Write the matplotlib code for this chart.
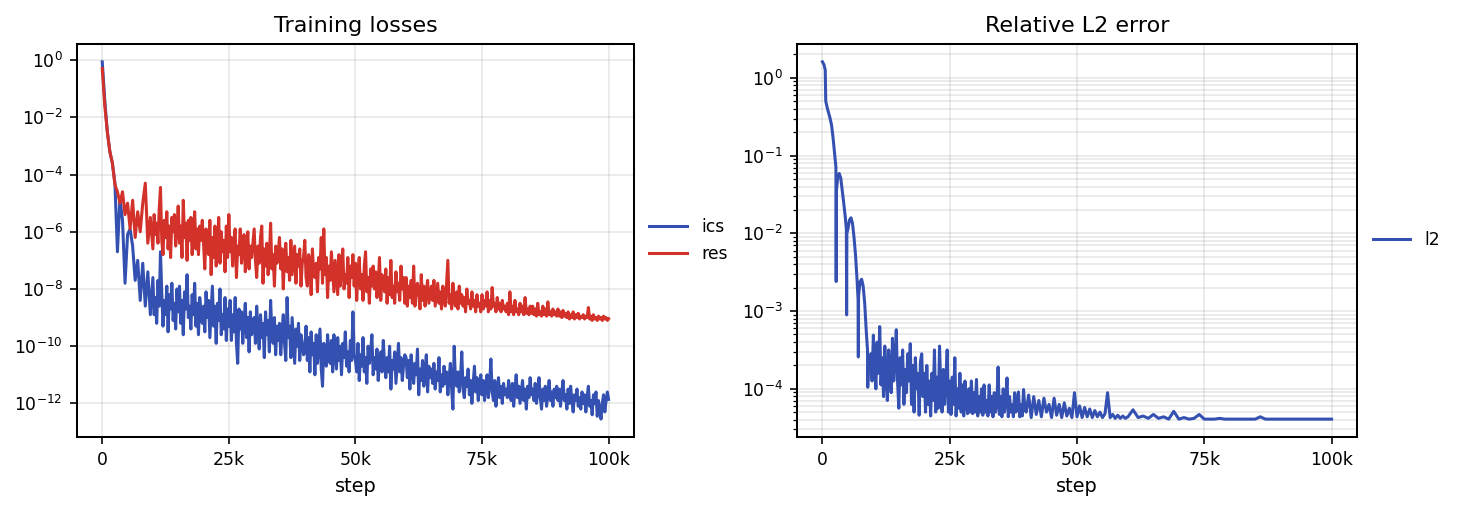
"""Training losses and relative L2 error, log-scale curves."""
import numpy as np
import matplotlib

matplotlib.use("Agg")
import matplotlib.pyplot as plt
from matplotlib.ticker import FuncFormatter, LogLocator, NullLocator

# loss curves: every 500 steps up to 9.5k, then every 250 (values as log10)
loss_steps = np.concatenate([np.arange(0, 10000, 500), np.arange(10000, 100001, 250)])

ics_log10 = [
    -0.06, -1.4, -2.5, -3.2, -3.6, -4.3, -6.7, -4.8, -5.6, -7.8,
    -6.1, -5.9, -6.5, -7.7, -7.0, -8.4, -7.1, -8.6, -7.4, -8.9,
    # 10k
    -7.6, -8.9, -8.3, -9.2, -7.7, -8.6, -6.7, -8.1, -9.3, -8.4,
    -8.9, -7.9, -9.5, -8.2, -8.7, -7.8, -9.1, -8.5, -9.4, -8.0,
    -8.8, -7.9, -9.2, -8.4, -9.6, -8.1, -8.7, -7.5, -9.0, -8.6,
    -9.4, -8.2, -8.9, -7.8, -9.3, -8.5, -9.6, -8.3, -8.8, -9.2,
    # 20k
    -8.6, -9.5, -8.1, -9.0, -8.4, -9.7, -8.8, -7.9, -9.3, -8.6,
    -9.9, -8.5, -9.1, -8.0, -9.6, -8.9, -9.4, -8.3, -9.8, -8.7,
    -9.3, -8.4, -9.8, -8.9, -9.5, -8.3, -9.9, -10.6, -8.7, -9.4,
    -8.8, -9.9, -9.1, -8.5, -9.7, -9.0, -10.2, -8.8, -9.6, -9.2,
    # 30k
    -9.0, -9.9, -8.6, -9.5, -10.1, -8.9, -9.7, -9.2, -10.4, -8.8,
    -9.6, -9.1, -10.2, -8.4, -9.5, -9.9, -9.0, -10.3, -9.3, -9.8,
    -9.2, -10.3, -9.5, -8.9, -9.9, -10.5, -8.3, -9.7, -9.3, -10.4,
    -9.0, -9.8, -10.6, -9.4, -10.0, -9.2, -10.5, -9.6, -9.9, -10.3,
    # 40k
    -10.2, -9.3, -10.5, -9.7, -10.9, -9.5, -10.3, -9.9, -11.0, -9.6,
    -10.6, -10.0, -9.4, -10.8, -11.4, -9.9, -10.4, -10.7, -9.6, -10.3,
    -10.6, -9.8, -10.9, -9.6, -10.3, -10.8, -9.7, -10.5, -10.0, -11.0,
    -9.9, -10.4, -9.5, -10.7, -10.2, -10.9, -9.8, -10.5, -8.8, -10.3,
    # 50k
    -10.5, -10.9, -9.9, -11.2, -10.3, -10.7, -9.7, -10.9, -10.4, -11.3,
    -10.0, -10.6, -10.2, -9.6, -11.0, -10.4, -10.8, -10.1, -11.2, -10.5,
    -10.2, -10.9, -9.8, -10.6, -11.1, -10.4, -10.9, -10.0, -11.5, -10.5,
    -10.8, -10.2, -11.3, -10.6, -9.9, -10.9, -10.4, -11.2, -10.7, -10.3,
    # 60k
    -10.4, -11.1, -10.5, -11.5, -10.3, -10.9, -11.3, -10.6, -11.0, -10.1,
    -11.7, -10.8, -11.2, -10.5, -11.4, -10.9, -10.3, -11.6, -10.7, -11.1,
    -10.8, -11.3, -10.6, -11.5, -10.9, -11.2, -10.4, -11.6, -11.0, -11.4,
    -10.7, -11.3, -10.9, -11.7, -11.1, -10.6, -11.5, -12.2, -10.0, -11.2,
    # 70k
    -11.4, -10.9, -11.6, -11.1, -10.2, -11.5, -11.8, -11.1, -11.4, -10.8,
    -11.7, -11.2, -12.0, -11.3, -10.7, -11.6, -11.1, -11.9, -11.4, -11.0,
    -11.7, -11.2, -11.9, -11.4, -11.0, -11.8, -11.3, -10.45, -11.6, -11.9,
    -11.2, -12.1, -11.5, -11.1, -11.8, -11.4, -12.0, -11.3, -11.7, -11.5,
    # 80k
    -11.8, -11.2, -11.6, -11.9, -11.3, -12.1, -11.5, -11.0, -11.8, -11.4,
    -12.0, -11.6, -11.2, -11.9, -11.5, -12.2, -11.4, -11.8, -11.1, -11.7,
    -11.5, -11.9, -11.3, -12.0, -11.6, -11.1, -11.8, -12.2, -11.5, -11.9,
    -11.4, -12.1, -11.7, -11.2, -11.9, -11.6, -12.1, -11.5, -11.8, -11.4,
    # 90k
    -11.9, -11.5, -12.1, -11.6, -11.2, -11.9, -11.7, -12.2, -11.5, -12.0,
    -11.4, -11.9, -12.3, -11.7, -11.9, -11.5, -12.1, -11.8, -12.2, -11.6,
    -12.0, -11.7, -12.3, -11.8, -11.4, -12.1, -11.9, -12.4, -11.7, -12.0,
    -11.6, -12.45, -11.9, -12.2, -12.55, -12.0, -11.7, -12.3, -11.9, -11.6,
    -11.86,
]

res_log10 = [
    -0.29, -1.6, -2.5, -3.2, -3.6, -4.35, -4.6, -5.0, -4.6, -5.4,
    -5.0, -5.9, -4.9, -6.2, -5.3, -6.0, -5.0, -4.3, -6.4, -5.5,
    # 10k
    -6.6, -5.4, -6.1, -5.7, -6.4, -5.2, -4.45, -6.3, -6.8, -5.6,
    -6.2, -5.3, -6.6, -5.8, -6.9, -5.5, -6.0, -5.4, -6.5, -5.9,
    -5.1, -6.4, -5.8, -6.9, -4.9, -6.2, -5.7, -7.0, -5.6, -6.3,
    -5.5, -6.8, -6.0, -5.3, -6.6, -5.9, -6.8, -5.8, -6.3, -5.6,
    # 20k
    -6.4, -7.3, -5.9, -6.6, -6.8, -5.6, -7.5, -6.2, -6.9, -5.8,
    -7.2, -6.4, -5.5, -7.1, -6.0, -6.7, -6.3, -7.4, -5.8, -6.9,
    -5.4, -6.7, -6.2, -7.2, -6.3, -5.9, -7.6, -6.5, -6.8, -5.9,
    -7.1, -6.4, -6.1, -7.4, -6.6, -6.0, -7.3, -6.5, -6.9, -6.4,
    # 30k
    -5.9, -7.0, -7.6, -6.5, -7.1, -6.2, -5.8, -7.8, -6.6, -7.2,
    -6.4, -7.5, -6.9, -5.7, -7.3, -6.8, -7.9, -6.5, -7.1, -6.7,
    -6.2, -7.3, -6.6, -8.0, -6.8, -6.4, -7.4, -6.9, -7.7, -6.3,
    -7.5, -7.0, -6.5, -7.8, -6.8, -7.2, -6.6, -7.9, -7.1, -6.9,
    # 40k
    -6.3, -7.6, -7.9, -6.8, -7.0, -8.2, -6.6, -7.4, -7.6, -7.1,
    -8.1, -6.9, -7.3, -6.2, -7.8, -5.9, -7.5, -6.9, -8.3, -7.2,
    -7.7, -6.7, -7.4, -8.1, -7.0, -7.6, -8.2, -6.8, -7.9, -7.3,
    -6.6, -8.0, -7.5, -7.8, -6.9, -8.3, -7.2, -7.6, -6.8, -7.9,
    # 50k
    -7.1, -8.4, -7.4, -6.9, -8.0, -7.5, -8.4, -7.2, -6.7, -8.1,
    -7.6, -8.5, -7.3, -7.9, -7.2, -8.0, -7.4, -8.3, -7.8, -6.9,
    -8.4, -7.5, -7.7, -8.1, -7.3, -8.5, -7.6, -8.2, -7.0, -8.3,
    -7.9, -8.5, -7.4, -8.1, -7.8, -8.4, -7.2, -8.0, -7.6, -8.5,
    # 60k
    -7.6, -8.6, -7.9, -8.3, -7.7, -8.5, -7.2, -8.6, -8.0, -7.8,
    -8.2, -8.7, -7.5, -8.4, -7.9, -8.6, -8.1, -7.7, -8.5, -8.2,
    -7.9, -8.4, -7.7, -8.6, -8.2, -7.8, -8.5, -8.1, -8.7, -7.9,
    -8.3, -8.6, -7.8, -7.0, -8.5, -8.2, -8.7, -7.8, -8.4, -8.6,
    # 70k
    -8.1, -8.7, -7.9, -8.5, -8.2, -8.6, -8.3, -8.8, -8.0, -8.5,
    -8.4, -8.7, -8.1, -8.6, -8.4, -8.8, -8.2, -8.6, -8.5, -8.8,
    -8.2, -8.7, -8.4, -8.6, -8.1, -8.8, -8.4, -8.7, -7.95, -8.6,
    -8.5, -8.8, -8.3, -8.7, -8.5, -8.8, -8.4, -8.7, -8.6, -8.8,
    # 80k
    -8.5, -8.9, -8.1, -8.8, -8.6, -8.9, -8.4, -8.8, -8.7, -8.9,
    -8.5, -8.8, -8.6, -8.9, -8.3, -8.85, -8.7, -8.9, -8.6, -8.85,
    -8.6, -8.9, -8.7, -8.95, -8.5, -8.9, -8.8, -8.95, -8.6, -8.9,
    -8.7, -8.95, -8.45, -8.9, -8.8, -8.95, -8.7, -8.9, -8.8, -8.95,
    # 90k
    -8.7, -8.95, -8.8, -9.0, -8.75, -8.95, -8.85, -9.0, -8.8, -9.05,
    -8.9, -9.0, -8.8, -9.05, -8.9, -9.0, -8.85, -9.05, -8.95, -9.0,
    -8.9, -9.05, -8.95, -9.0, -8.65, -9.05, -8.95, -9.1, -8.9, -9.05,
    -9.0, -9.1, -8.95, -9.05, -9.0, -9.1, -8.95, -9.05, -9.0, -9.1,
    -9.04,
]

# relative L2 error: dense early steps, then every 250 / 500 / 1000 steps
l2_early_steps = [
    0, 300, 550, 650, 1000, 1500, 1800, 2100, 2400, 2650,
    2700, 2750, 3000, 3300, 3600, 3900, 4200, 4500, 4700, 4750,
    4800, 5000, 5300, 5600, 5900, 6200, 6500, 6800, 7000, 7050,
    7100, 7400, 7700, 8000, 8300, 8600, 8850, 8900, 9100,
]
l2_early_log10 = [
    0.206, 0.17, 0.10, -0.30, -0.40, -0.52, -0.61, -0.78, -0.98, -1.15,
    -2.62, -1.45, -1.28, -1.23, -1.29, -1.45, -1.62, -1.80, -1.95, -3.05,
    -2.0, -1.95, -1.83, -1.80, -1.87, -2.05, -2.28, -2.6, -2.85, -3.59,
    -2.8, -2.62, -2.59, -2.68, -2.9, -3.25, -3.5, -3.98, -3.6,
]
l2_mid_steps = np.arange(9500, 40001, 250)
l2_mid_log10 = [
    -3.55, -3.9, -3.31, -3.7, -4.0, -3.4, -3.8, -3.2, -3.95, -3.6,
    -4.1, -3.45, -3.85, -4.15, -3.5, -3.75, -4.05, -3.35, -3.9, -3.65,
    -3.24, -3.9, -4.25, -3.6, -3.95, -3.5, -4.2, -3.75, -4.05, -3.55,
    -3.9, -3.42, -4.2, -3.7, -4.3, -3.6, -4.0, -3.8, -4.34, -3.65,
    -3.55, -4.1, -3.8, -4.3, -3.7, -4.2, -3.9, -4.35, -3.8, -4.15,
    -3.5, -4.3, -3.85, -4.25, -3.45, -4.0, -4.3, -3.75, -4.2, -3.9,
    -3.5, -4.3, -3.9, -4.33, -3.85, -4.2, -3.6, -4.35, -4.0, -4.25,
    -3.8, -4.3, -3.95, -4.35, -3.9, -4.2, -4.32, -4.0, -4.3, -3.9,
    -4.32, -4.05, -4.3, -3.88, -4.35, -4.1, -4.3, -4.0, -4.34, -3.95,
    -4.3, -4.15, -4.35, -3.95, -4.3, -4.1, -4.36, -4.05, -4.3, -4.2,
    -3.72, -4.33, -4.1, -4.36, -4.0, -4.3, -4.15, -3.86, -4.36, -4.1,
    -4.3, -4.2, -4.36, -4.05, -4.3, -4.15, -4.04, -4.36, -4.2, -4.35,
    -4.01, -4.25, -4.3,
]
l2_late_steps = np.arange(40500, 60001, 500)
l2_late_log10 = [
    -4.08, -4.37, -4.1, -4.33, -4.15, -4.36, -4.12, -4.3, -4.2, -4.37,
    -4.12, -4.34, -4.2, -4.37, -4.18, -4.35, -4.25, -4.37, -4.05, -4.36,
    -4.22, -4.37, -4.24, -4.36, -4.26, -4.37, -4.28, -4.36, -4.3, -4.37,
    -4.32, -4.05, -4.37, -4.33, -4.38, -4.34, -4.38, -4.35, -4.38, -4.36,
]
l2_tail_steps = np.arange(61000, 100001, 1000)
l2_tail_log10 = [
    -4.27, -4.37, -4.35, -4.38, -4.33, -4.38, -4.36, -4.39, -4.29, -4.39,
    -4.37, -4.39, -4.38, -4.33, -4.39, -4.39, -4.39, -4.38, -4.39, -4.39,
    -4.39, -4.39, -4.39, -4.39, -4.39, -4.36, -4.39, -4.39, -4.39, -4.39,
    -4.39, -4.39, -4.39, -4.39, -4.39, -4.39, -4.39, -4.39, -4.39, -4.39,
]

BLUE = "#3451b2"
RED = "#d3322b"


def kfmt(value, _pos):
    return "0" if value == 0 else f"{value / 1000:.0f}k"


def style_axis(ax, title):
    ax.set_yscale("log")
    ax.set_title(title, fontsize=11)
    ax.set_xlabel("step", fontsize=9.5)
    ax.set_xticks([0, 25000, 50000, 75000, 100000])
    ax.xaxis.set_major_formatter(FuncFormatter(kfmt))
    ax.tick_params(labelsize=8.5)
    for spine in ax.spines.values():
        spine.set_linewidth(1.0)
    ax.legend(loc="center left", bbox_to_anchor=(1.0, 0.5), frameon=False,
              fontsize=8.5, handlelength=2.2)


fig = plt.figure(figsize=(1457 / 146, 512 / 146), dpi=146)
ax1 = fig.add_axes([0.0528, 0.1465, 0.3823, 0.7676])
ax2 = fig.add_axes([0.547, 0.1465, 0.3844, 0.7676])

ax1.plot(loss_steps, 10.0 ** np.array(ics_log10), color=BLUE, lw=1.5, label="ics")
ax1.plot(loss_steps, 10.0 ** np.array(res_log10), color=RED, lw=1.5, label="res")
style_axis(ax1, "Training losses")
ax1.set_yticks([10.0 ** k for k in range(0, -13, -2)])
ax1.yaxis.set_minor_locator(NullLocator())
ax1.grid(True, which="major", alpha=0.3)

l2_steps = np.concatenate([l2_early_steps, l2_mid_steps, l2_late_steps, l2_tail_steps])
l2 = 10.0 ** np.array(l2_early_log10 + l2_mid_log10 + l2_late_log10 + l2_tail_log10)
ax2.plot(l2_steps, l2, color=BLUE, lw=1.5, label="l2")
style_axis(ax2, "Relative L2 error")
ax2.set_yticks([10.0 ** k for k in range(0, -5, -1)])
ax2.yaxis.set_minor_locator(LogLocator(base=10, subs=np.arange(2, 10)))
ax2.grid(True, which="both", alpha=0.3)

fig.savefig("out.png", dpi=146)
